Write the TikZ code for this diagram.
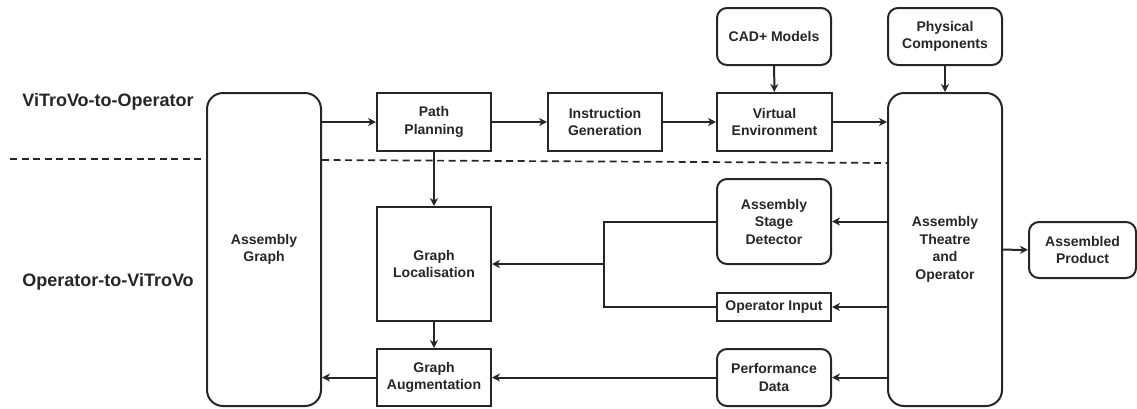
\documentclass[tikz,border=0pt]{standalone}
\usepackage{fontspec}
\setmainfont{Liberation Sans}
\usetikzlibrary{arrows.meta}
\begin{document}
\begin{tikzpicture}[x=1pt,y=-1pt,
  box/.style={draw=black!85, line width=2pt, align=center, inner sep=0pt,
    font=\fontsize{14}{17.5}\selectfont\bfseries, text=black!85},
  roundbox/.style={box, rounded corners=10pt},
  flow/.style={line width=2pt, draw=black!85, -{Stealth[length=8pt,width=8pt,inset=2.5pt]}},
  link/.style={line width=2pt, draw=black!85},
  divider/.style={line width=1.7pt, draw=black!85, dash pattern=on 7pt off 4.5pt},
  lane/.style={font=\fontsize{18}{22}\selectfont\bfseries, text=black!85, inner sep=0pt}]
\useasboundingbox (0,0) rectangle (1137,408);

% lane labels
\node[lane] (top) at (108,102) {ViTroVo-to-Operator};
\node[lane] (bot) at (108,282) {Operator-to-ViTroVo};

% tall blocks
\node[box, rounded corners=16pt, minimum width=114pt, minimum height=313pt] (ag) at (264,249.5) {Assembly\\Graph};
\node[box, rounded corners=16pt, minimum width=114pt, minimum height=313pt] (at) at (945,249.5) {Assembly\\Theatre\\and\\Operator};

% upper chain
\node[box, minimum width=114pt, minimum height=58pt] (pp) at (434,122) {Path\\Planning};
\node[box, minimum width=114pt, minimum height=58pt] (ig) at (605,122) {Instruction\\Generation};
\node[box, minimum width=115pt, minimum height=58pt] (ve) at (774.5,122) {Virtual\\Environment};
\node[roundbox, minimum width=114pt, minimum height=57pt] (cad) at (774,36.5) {CAD+ Models};
\node[roundbox, minimum width=114pt, minimum height=57pt] (pc) at (945,36.5) {Physical\\Components};

% lower blocks
\node[box, minimum width=114pt, minimum height=114pt] (gl) at (434,264) {Graph\\Localisation};
\node[box, minimum width=114pt, minimum height=57pt] (ga) at (434,377.5) {Graph\\Augmentation};
\node[roundbox, minimum width=114pt, minimum height=85pt] (asd) at (774,221.5) {Assembly\\Stage\\Detector};
\node[box, minimum width=114pt, minimum height=28pt] (oi) at (774,307) {Operator Input};
\node[roundbox, minimum width=114pt, minimum height=57pt] (pd) at (774,377.5) {Performance\\Data};
\node[roundbox, minimum width=107pt, minimum height=56pt] (ap) at (1082.5,250) {Assembled\\Product};

% lane dividers
\coordinate (dl) at (10,159);
\coordinate (dr) at (888,163);
\draw[divider] (dl) -- (dl -| ag.west);
\draw[divider] (ag.east |- 0,160) -- (dr);

% upper flow
\draw[flow] (ag.east |- pp) -- (pp);
\draw[flow] (pp) -- (ig);
\draw[flow] (ig) -- (ve);
\draw[flow] (ve) -- (ve -| at.west);
\draw[flow] (cad) -- (ve);
\draw[flow] (pc) -- (at);

% lower flow
\coordinate (j) at (604,264);
\draw[flow] (pp) -- (gl);
\draw[flow] (gl) -- (ga);
\draw[flow] (at.west |- asd) -- (asd);
\draw[flow] (at.west |- oi) -- (oi);
\draw[link] (asd.west) -- (asd.west -| j) -- (oi.west -| j) -- (oi.west);
\draw[flow] (j) -- (gl);
\draw[flow] (at.west |- pd) -- (pd);
\draw[flow] (pd) -- (ga);
\draw[flow] (ga) -- (ga -| ag.east);
\draw[flow] (at) -- (ap);
\end{tikzpicture}
\end{document}
